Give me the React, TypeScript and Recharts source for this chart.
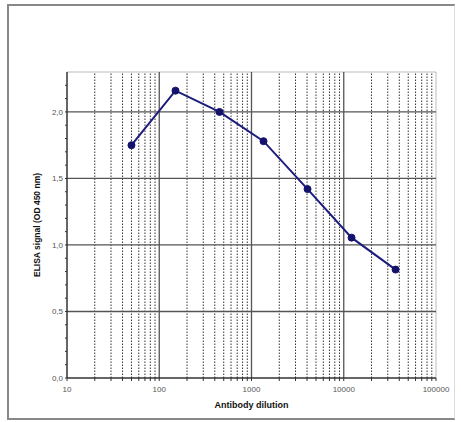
import React from 'react';
import { ComposedChart, Line, XAxis, YAxis, ReferenceLine, Label } from 'recharts';

const dilutions = [50, 150, 450, 1350, 4050, 12150, 36450];
const signals = [1.75, 2.16, 2.0, 1.78, 1.42, 1.055, 0.815];

const majorX = [10, 100, 1000, 10000, 100000];
const minorX = [
  20, 30, 40, 50, 60, 70, 80, 90,
  200, 300, 400, 500, 600, 700, 800, 900,
  2000, 3000, 4000, 5000, 6000, 7000, 8000, 9000,
  20000, 30000, 40000, 50000, 60000, 70000, 80000, 90000,
];
const majorY = [0, 0.5, 1, 1.5, 2];
const minorY = [0.1, 0.2, 0.3, 0.4, 0.6, 0.7, 0.8, 0.9, 1.1, 1.2, 1.3, 1.4, 1.6, 1.7, 1.8, 1.9, 2.1, 2.2];

const data = dilutions.map((d, i) => ({ x: d, y: signals[i] }));
const xTicks = [...majorX, ...minorX].sort((a, b) => a - b);
const yTicks = [...majorY, ...minorY].sort((a, b) => a - b);

const FONT = '"Liberation Sans", Arial, sans-serif';

export default function App() {
  return (
    <div style={{ position: 'absolute', left: 0, top: 0, width: 461, height: 422, background: '#fff' }}>
      <div style={{ position: 'absolute', left: 7, top: 4, width: 448, height: 416, borderTop: '2px solid #888', borderLeft: '2px solid #888', borderBottom: '2px solid #888', borderRight: '1px solid #ddd', boxSizing: 'border-box' }} />
      <ComposedChart
        width={461}
        height={422}
        data={data}
        margin={{ top: 72, right: 25, bottom: 14, left: 37 }}
        style={{ position: 'absolute', left: 0, top: 0, fontFamily: FONT }}
      >
        <XAxis
          dataKey="x"
          type="number"
          scale="log"
          domain={[10, 100000]}
          ticks={xTicks}
          interval={0}
          allowDataOverflow
          height={30}
          tickSize={3}
          axisLine={{ stroke: '#333', strokeWidth: 1.5 }}
          tickLine={{ stroke: '#333' }}
          tick={{ fontSize: 8, fill: '#555', fontFamily: FONT }}
          tickFormatter={(v: number) => (majorX.includes(v) ? String(v) : '')}
          dy={3}
        >
          <Label value="Antibody dilution" position="insideBottom" offset={0} dy={0} style={{ fontSize: 9, fontWeight: 'bold', fill: '#111', fontFamily: FONT }} />
        </XAxis>
        <YAxis
          type="number"
          domain={[0, 2.3]}
          ticks={yTicks}
          interval={0}
          width={30}
          tickSize={2}
          axisLine={{ stroke: '#333', strokeWidth: 1.5 }}
          tickLine={{ stroke: '#333' }}
          tick={{ fontSize: 8, fill: '#555', fontFamily: FONT }}
          tickFormatter={(v: number) => (majorY.includes(v) ? v.toFixed(1).replace('.', ',') : '')}
        >
          <Label value="ELISA signal (OD 450 nm)" angle={-90} position="insideLeft" offset={0} dx={0} style={{ fontSize: 8.5, fontWeight: 'bold', fill: '#111', fontFamily: FONT, textAnchor: 'middle' }} />
        </YAxis>
        {minorX.map((v) => (
          <ReferenceLine key={'mx' + v} x={v} stroke="#333" strokeWidth={1} strokeDasharray="1.5 1.5" ifOverflow="hidden" />
        ))}
        <ReferenceLine y={2.3} stroke="#bbb" strokeWidth={1} />
        <ReferenceLine x={100000} stroke="#bbb" strokeWidth={1} />
        {majorX.slice(1, -1).map((v) => (
          <ReferenceLine key={'Mx' + v} x={v} stroke="#555" strokeWidth={1.3} />
        ))}
        {majorY.slice(1).map((v) => (
          <ReferenceLine key={'My' + v} y={v} stroke="#555" strokeWidth={1.3} />
        ))}
        <Line
          type="linear"
          dataKey="y"
          stroke="#1c1c7c"
          strokeWidth={2}
          dot={{ r: 3.5, fill: '#13136e', stroke: '#13136e', strokeWidth: 1 }}
          isAnimationActive={false}
        />
      </ComposedChart>
    </div>
  );
}
